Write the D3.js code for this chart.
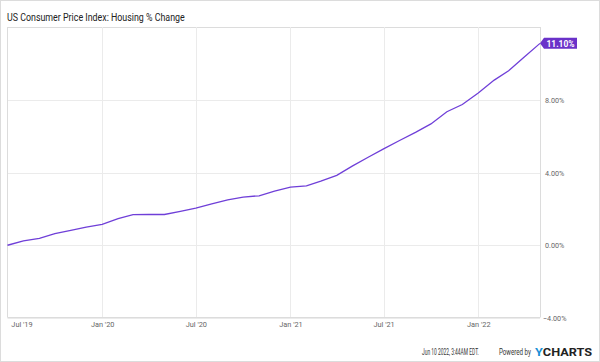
<!DOCTYPE html>
<html><head><meta charset="utf-8">
<script src="https://cdn.jsdelivr.net/npm/d3@7"></script>
<style>body{margin:0;background:#fff;}svg{display:block;font-family:Roboto,"Noto Sans",sans-serif;}</style>
</head><body><svg id="c" width="600" height="362"></svg>
<script>
const months = ["2019-07","2019-08","2019-09","2019-10","2019-11","2019-12","2020-01","2020-02","2020-03","2020-04","2020-05","2020-06","2020-07","2020-08","2020-09","2020-10","2020-11","2020-12","2021-01","2021-02","2021-03","2021-04","2021-05","2021-06","2021-07","2021-08","2021-09","2021-10","2021-11","2021-12","2022-01","2022-02","2022-03","2022-04","2022-05"];
const values = [0,0.24,0.38,0.64,0.82,1.0,1.15,1.46,1.68,1.70,1.69,1.86,2.04,2.28,2.50,2.65,2.72,2.98,3.2,3.27,3.52,3.84,4.35,4.84,5.30,5.76,6.21,6.67,7.34,7.74,8.37,9.08,9.59,10.36,11.10];
const yTicks = [-4,0,4,8];
const xTicks = ["2019-07","2020-01","2020-07","2021-01","2021-07","2022-01"];
const xTickLabels = ["Jul '19","Jan '20","Jul '20","Jan '21","Jul '21","Jan '22"];
const title = "US Consumer Price Index: Housing % Change";
const lastLabel = "11.10%";

function condense(sel, k){
  sel.each(function(){
    const w = this.getComputedTextLength();
    d3.select(this).attr("textLength", w*k).attr("lengthAdjust","spacingAndGlyphs");
  });
}
// place text scaled horizontally so that it spans exactly `width` px
function fitText(parent, txt, x0, y0, width, size, attrs){
  const g = parent.append("g");
  const t = g.append("text").attr("font-size",size).text(txt);
  for (const k in attrs) t.attr(k, attrs[k]);
  const w = t.node().getComputedTextLength();
  g.attr("transform",`translate(${x0},${y0}) scale(${width/w},1)`);
  return t;
}

const parse = d3.timeParse("%Y-%m");
const data = months.map((m,i)=>({d:parse(m), v:values[i]}));
const svg = d3.select("#c");
const L=7.5, R=540, T=27, B=317.5;
const x = d3.scaleTime().domain([parse("2019-07"), parse("2022-05")]).range([L,R]);
const y = d3.scaleLinear().domain([-4,12]).range([318,27]);

// outer border
svg.append("rect").attr("x",0.5).attr("y",0.5).attr("width",599).attr("height",361).attr("fill","none").attr("stroke","#dcdcdc");

// title
fitText(svg, title, 7, 21, 178, 10, {fill:"#222"});

// grid
const g = svg.append("g");
g.selectAll(".hg").data(yTicks.concat([12])).join("line")
 .attr("x1",L).attr("x2",R).attr("y1",d=>Math.round(y(d))+0.5).attr("y2",d=>Math.round(y(d))+0.5)
 .attr("stroke",d=>d===12?"#dcdcdc":"#ebebeb");
g.selectAll(".vg").data(xTicks.slice(1)).join("line")
 .attr("x1",d=>Math.round(x(parse(d)))+0.5).attr("x2",d=>Math.round(x(parse(d)))+0.5).attr("y1",T).attr("y2",B)
 .attr("stroke","#ebebeb");
// plot borders
svg.append("line").attr("x1",L).attr("x2",L).attr("y1",T).attr("y2",B).attr("stroke","#dcdcdc");
svg.append("line").attr("x1",R+0.5).attr("x2",R+0.5).attr("y1",T).attr("y2",B).attr("stroke","#dcdcdc");
svg.append("line").attr("x1",L).attr("x2",R).attr("y1",B).attr("y2",B).attr("stroke","#dcdcdc");

// right axis labels
const yAxis = d3.axisRight(y).tickValues(yTicks).tickSize(0).tickPadding(0).tickFormat(d=>d3.format(".2f")(d)+"%");
const ya = svg.append("g").attr("transform",`translate(545,0)`).call(yAxis);
ya.select(".domain").remove();
ya.selectAll("text").attr("font-size",8).attr("fill","#666").attr("font-family","Roboto,sans-serif")
  .attr("dx",d=>d<0?-2:0).call(condense,0.9);

// x axis labels
const xAxis = d3.axisBottom(x).tickValues(xTicks.map(parse)).tickSize(0).tickPadding(0)
  .tickFormat((d,i)=>xTickLabels[i]);
const xa = svg.append("g").attr("transform",`translate(0,321)`).call(xAxis);
xa.select(".domain").remove();
xa.selectAll("text").attr("font-size",8).attr("fill","#666").attr("font-family","Roboto,sans-serif")
  .attr("dx",(d,i)=>i===0?14:0).call(condense,0.92);

// line
const line = d3.line().x(d=>x(d.d)).y(d=>y(d.v));
svg.append("path").datum(data).attr("d",line).attr("fill","none").attr("stroke","#6f3fd8").attr("stroke-width",1.3);

// last value badge
const last = data[data.length-1];
const lx = x(last.d), ly = y(last.v);
const bw = 33, bh = 11;
svg.append("path").attr("d",`M${lx},${ly} L${lx+4},${ly-bh/2} L${lx+4+bw},${ly-bh/2} L${lx+4+bw},${ly+bh/2} L${lx+4},${ly+bh/2} Z`).attr("fill","#6a32c9");
fitText(svg, lastLabel, lx+6.5, ly+3.2, 28, 8.5, {fill:"#fff","font-weight":"bold"});

// footer
fitText(svg, "Jun 10 2022, 3:44AM EDT.", 422, 355, 57, 8.5, {fill:"#333"});
fitText(svg, "Powered by", 499, 355, 32, 8.5, {fill:"#333"});
const logo = fitText(svg, "", 535, 356, 1, 11.5, {"font-weight":"bold"});
logo.append("tspan").attr("fill","#1a8fd6").text("Y");
logo.append("tspan").attr("fill","#222").text("CHARTS");
{
  const w = logo.node().getComputedTextLength();
  d3.select(logo.node().parentNode).attr("transform",`translate(535,356) scale(${57/w},1)`);
}
</script></body></html>
